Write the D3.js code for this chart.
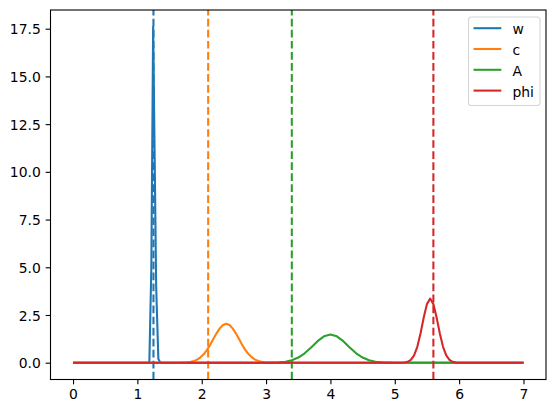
<!DOCTYPE html>
<html>
<head>
<meta charset="utf-8">
<script src="https://cdn.jsdelivr.net/npm/d3@7"></script>
<style>
	body { margin: 0; background: white; }
	svg { display: block; }
</style>
</head>
<body>
<script>
// values
var xTicks = [0, 1, 2, 3, 4, 5, 6, 7];
var yTicks = [0, 2.5, 5, 7.5, 10, 12.5, 15, 17.5];
var names = ["w", "c", "A", "phi"];
var trueValues = [1.25, 2.1, 3.4, 5.6];

var wPoints = [
	[0, 0], [1.186, 0], [1.217, 5], [1.245, 17.6], [1.292, 4], [1.326, 0.2], [1.357, 0], [7, 0]
];
var cPoints = [
	[0, 0], [1.58, 0], [1.68, 0.004], [1.78, 0.023], [1.83, 0.047], [1.88, 0.09], [1.93, 0.16],
	[1.98, 0.28], [2.03, 0.44], [2.08, 0.66], [2.13, 0.93], [2.18, 1.24], [2.23, 1.54],
	[2.28, 1.80], [2.33, 1.98], [2.38, 2.04], [2.43, 1.98], [2.48, 1.80], [2.53, 1.54],
	[2.58, 1.24], [2.63, 0.93], [2.68, 0.66], [2.73, 0.44], [2.78, 0.28], [2.83, 0.16],
	[2.88, 0.09], [2.93, 0.047], [2.98, 0.023], [3.08, 0.004], [3.18, 0], [7, 0]
];
var aPoints = [
	[0, 0], [3.0, 0], [3.1, 0.006], [3.2, 0.018], [3.3, 0.051], [3.4, 0.125], [3.5, 0.27],
	[3.6, 0.49], [3.7, 0.80], [3.8, 1.13], [3.9, 1.38], [4.0, 1.48], [4.1, 1.38], [4.2, 1.13],
	[4.3, 0.80], [4.4, 0.49], [4.5, 0.27], [4.6, 0.125], [4.7, 0.051], [4.8, 0.018],
	[4.9, 0.006], [5.0, 0], [7, 0]
];
var phiPoints = [
	[0, 0], [5.10, 0], [5.15, 0.013], [5.20, 0.048], [5.25, 0.147], [5.30, 0.38], [5.35, 0.83],
	[5.40, 1.53], [5.45, 2.37], [5.50, 3.07], [5.55, 3.36], [5.60, 3.07], [5.65, 2.37],
	[5.70, 1.53], [5.75, 0.83], [5.80, 0.38], [5.85, 0.147], [5.90, 0.048], [5.95, 0.013],
	[6.00, 0], [7, 0]
];

async function main(){

	var w = 556;
	var h = 413;
	var font = "DejaVu Sans, sans-serif";
	var fontSize = 13.9;
	var lw = 2.08; // 1.5pt
	var colors = ["#1f77b4", "#ff7f0e", "#2ca02c", "#d62728"];
	var series = [wPoints, cPoints, aPoints, phiPoints];

	var left = 50.5, right = 546, top = 10, bottom = 379.5;

	var svg = d3.select("body")
				.append("svg")
				.attr("width", w)
				.attr("height", h);

	svg.append("rect")
		.attr("width", w)
		.attr("height", h)
		.attr("fill", "white");

	var x = d3.scaleLinear().domain([-0.35, 7.35]).range([left, right]);
	var y = d3.scaleLinear().domain([-0.88, 18.48]).range([bottom, top]);

	var line = d3.line()
				.x(function(d){return x(d[0]);})
				.y(function(d){return y(d[1]);});

	// curve then its dashed true value, one parameter at a time
	for(var i = 0; i < series.length; i++){
		svg.append("path")
			.attr("d", line(series[i]))
			.attr("fill", "none")
			.attr("stroke", colors[i])
			.attr("stroke-width", lw)
			.attr("stroke-linejoin", "round");

		svg.append("line")
			.attr("x1", x(trueValues[i]))
			.attr("x2", x(trueValues[i]))
			.attr("y1", bottom)
			.attr("y2", top)
			.attr("stroke", colors[i])
			.attr("stroke-width", lw)
			.attr("stroke-dasharray", "7.7,3.33");
	}

	var xAxis = svg.append("g")
					.attr("transform", "translate(0," + bottom + ")")
					.call(d3.axisBottom(x).tickValues(xTicks).tickSize(4.86).tickPadding(4.86).tickSizeOuter(0));

	var yAxis = svg.append("g")
					.attr("transform", "translate(" + left + ",0)")
					.call(d3.axisLeft(y).tickValues(yTicks).tickFormat(d3.format(".1f")).tickSize(4.86).tickPadding(4.86).tickSizeOuter(0));

	[xAxis, yAxis].forEach(function(a){
		a.select(".domain").remove();
		a.selectAll(".tick line").attr("stroke", "black").attr("stroke-width", 1.1);
		a.selectAll(".tick text")
			.attr("fill", "black")
			.style("font-family", font)
			.style("font-size", fontSize + "px");
	});
	yAxis.selectAll(".tick text").attr("dy", "0.36em");

	// spines
	svg.append("rect")
		.attr("x", left)
		.attr("y", top)
		.attr("width", right - left)
		.attr("height", bottom - top)
		.attr("fill", "none")
		.attr("stroke", "black")
		.attr("stroke-width", 1.1);

	// legend
	var legend = svg.append("g");

	legend.append("rect")
		.attr("x", 468.5)
		.attr("y", 17)
		.attr("width", 71.5)
		.attr("height", 88.5)
		.attr("rx", 2.8)
		.attr("fill", "white")
		.attr("fill-opacity", 0.8)
		.attr("stroke", "#d6d6d6")
		.attr("stroke-width", 1.1);

	var items = legend.selectAll("g.item")
					.data(names)
					.enter()
					.append("g")
					.attr("class", "item")
					.attr("transform", function(d, i){return "translate(473.5," + (28.2 + i * 20.8) + ")";});

	items.append("line")
		.attr("x1", 0)
		.attr("x2", 27.8)
		.attr("stroke", function(d, i){return colors[i];})
		.attr("stroke-width", lw);

	items.append("text")
		.attr("x", 38.9)
		.attr("y", 6.2)
		.attr("fill", "black")
		.style("font-family", font)
		.style("font-size", fontSize + "px")
		.text(function(d){return d;});

};

main();
</script>
</body>
</html>
